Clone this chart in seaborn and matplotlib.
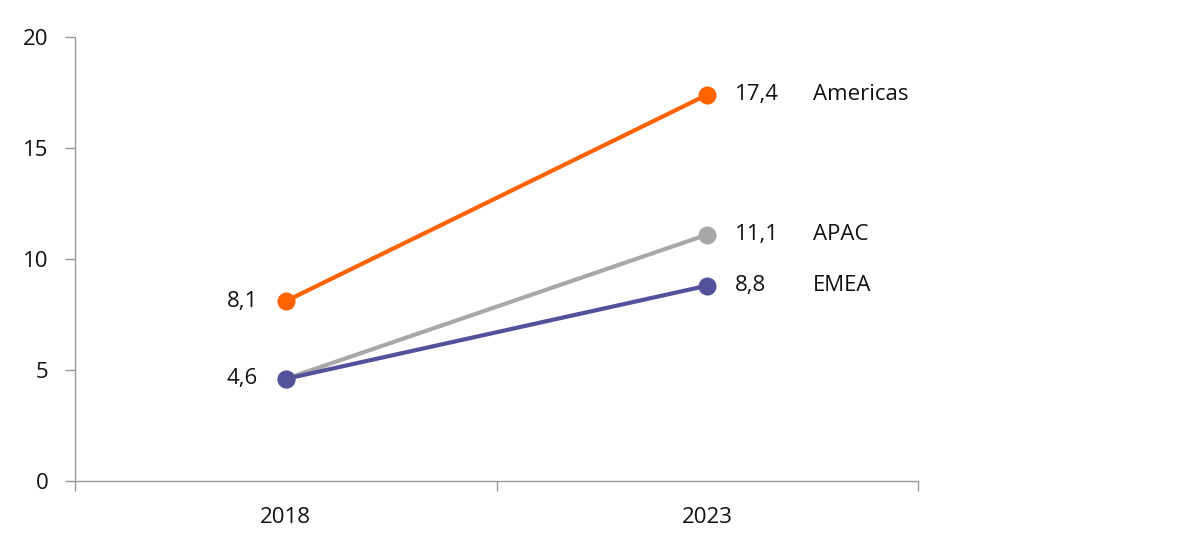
import pandas as pd
import seaborn as sns
import matplotlib.pyplot as plt

# data
years = ['2018', '2023']
regions = ['Americas', 'APAC', 'EMEA']
americas = [8.1, 17.4]
apac = [4.6, 11.1]
emea = [4.6, 8.8]

colors = {'Americas': '#FF6200', 'APAC': '#A8A8A8', 'EMEA': '#525199'}

df = pd.DataFrame({
    'year': years * 3,
    'region': [r for r in regions for _ in years],
    'value': americas + apac + emea,
})

sns.set_style('white')
plt.rcParams['font.family'] = ['Open Sans', 'DejaVu Sans']
plt.rcParams['text.color'] = '#111111'
plt.rcParams['xtick.labelcolor'] = '#111111'
plt.rcParams['ytick.labelcolor'] = '#111111'

fig = plt.figure(figsize=(12, 5.52), dpi=100)
ax = fig.add_axes([0.0625, 0.1286, 0.7025, 0.8044])

# APAC drawn before EMEA so EMEA sits on top at 2018
for reg in ['Americas', 'APAC', 'EMEA']:
    sub = df[df['region'] == reg]
    sns.lineplot(data=sub, x='year', y='value', color=colors[reg], lw=3,
                 marker='o', markersize=13, markeredgewidth=0, ax=ax,
                 legend=False)

ax.set_xlim(-0.5, 1.5)
ax.set_ylim(0, 20)
ax.set_yticks([0, 5, 10, 15, 20])
ax.set_xticks([-0.5, 0.5, 1.5])
ax.set_xticklabels([])
ax.set_xticks([0, 1], minor=True)
ax.set_xticklabels(years, minor=True)
ax.tick_params(axis='x', which='minor', length=0, pad=19, labelsize=16)
ax.tick_params(axis='x', which='major', length=7, width=1, color='#999999', direction='out', bottom=True)
ax.tick_params(axis='y', length=7, width=1, color='#999999', direction='out', left=True, labelsize=16, pad=12)
ax.set_xlabel('')
ax.set_ylabel('')

for side in ['top', 'right']:
    ax.spines[side].set_visible(False)
for side in ['left', 'bottom']:
    ax.spines[side].set_color('#999999')
    ax.spines[side].set_linewidth(1)

# value labels
ax.annotate('8,1', (0, americas[0]), xytext=(-20, 0), textcoords='offset points',
            ha='right', va='center', fontsize=16)
ax.annotate('4,6', (0, apac[0]), xytext=(-20, 0), textcoords='offset points',
            ha='right', va='center', fontsize=16)
for reg, vals in zip(regions, [americas, apac, emea]):
    ax.annotate(f'{vals[1]:.1f}'.replace('.', ','), (1, vals[1]), xytext=(20, 0),
                textcoords='offset points', ha='left', va='center', fontsize=16)
    ax.annotate(reg, (1, vals[1]), xytext=(76, 0),
                textcoords='offset points', ha='left', va='center', fontsize=16)

fig.savefig('out.png', dpi=100)
